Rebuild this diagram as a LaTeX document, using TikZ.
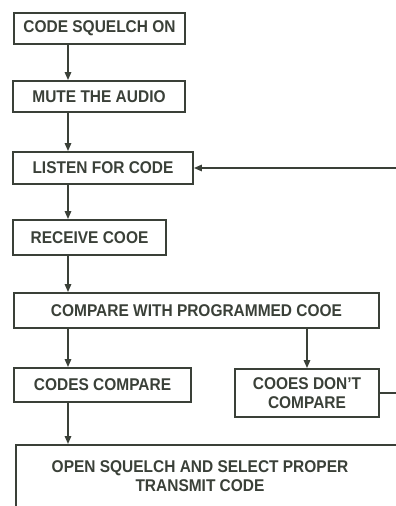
\documentclass[tikz,border=0pt]{standalone}
\usepackage{fontspec}
\setmainfont{Liberation Sans}[FakeStretch=0.91]
\usetikzlibrary{arrows.meta}
\definecolor{ink}{RGB}{58,64,56}

\begin{document}
\begin{tikzpicture}[x=1pt,y=1pt,
  box/.style={draw=ink,line width=1.9pt,inner sep=0pt,text=ink,align=center,
    font=\fontsize{17}{19}\selectfont\bfseries},
  flow/.style={ink,line width=1.5pt,-{Triangle[length=8pt,width=6.5pt]}}]
  \useasboundingbox (0,0) rectangle (396,-506);
  \clip (0,0) rectangle (396,-506);
  \coordinate (col) at (68,0);
  % steps of the code squelch routine
  \node[box,minimum width=171,minimum height=31] (squelchon) at (99.5,-28.5) {CODE SQUELCH ON};
  \node[box,minimum width=172,minimum height=31] (mute) at (99,-96.5) {MUTE THE AUDIO};
  \node[box,minimum width=180,minimum height=32] (listen) at (103,-168) {LISTEN FOR CODE};
  \node[box,minimum width=153,minimum height=35] (receive) at (89.5,-237.5) {RECEIVE COOE};
  \node[box,minimum width=365,minimum height=35] (compare) at (196.5,-310.5) {COMPARE WITH PROGRAMMED COOE};
  \node[box,minimum width=177,minimum height=34] (match) at (102.5,-385) {CODES COMPARE};
  \node[box,minimum width=144,minimum height=48] (nomatch) at (307,-393) {COOES DON’T\\COMPARE};
  \node[box,anchor=north west,minimum width=430,minimum height=100] (openframe) at (15,-444) {};
  \node[box,draw=none] (open) at (200,-476.5) {OPEN SQUELCH AND SELECT PROPER\\TRANSMIT CODE};
  % connectors
  \draw[flow] (squelchon.south -| col) -- (mute.north -| col);
  \draw[flow] (mute.south -| col) -- (listen.north -| col);
  \draw[flow] (listen.south -| col) -- (receive.north -| col);
  \draw[flow] (receive.south -| col) -- (compare.north -| col);
  \draw[flow] (compare.south -| col) -- (match.north -| col);
  \draw[flow] (compare.south -| nomatch.north) -- (nomatch.north);
  \draw[flow] (match.south -| col) -- (openframe.north -| col);
  \draw[flow] (nomatch.east) -- ++(30,0) |- (listen.east);
\end{tikzpicture}
\end{document}
